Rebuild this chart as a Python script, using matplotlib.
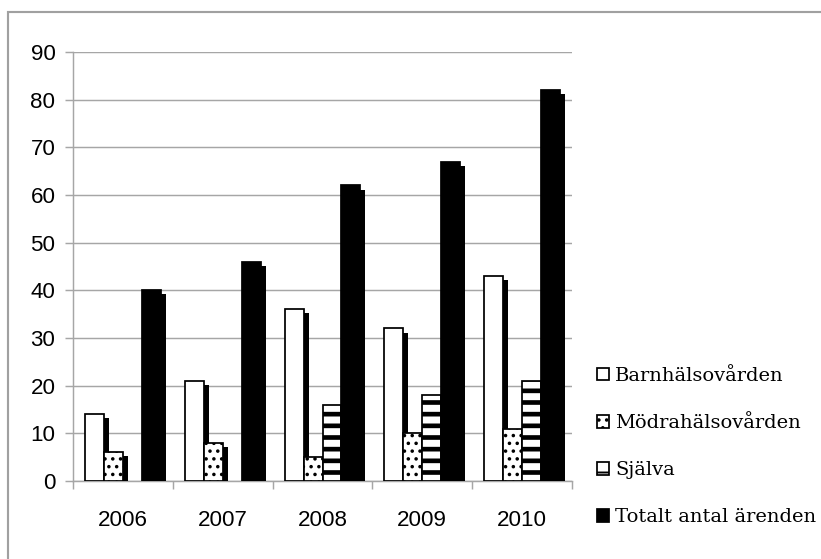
import numpy as np
import matplotlib
matplotlib.use("Agg")
import matplotlib.pyplot as plt
import matplotlib.patheffects as pe
from matplotlib.patches import Patch, Rectangle

# Ärenden per år och källa
years = ["2006", "2007", "2008", "2009", "2010"]
barnhalsovarden = [14, 21, 36, 32, 43]
modrahalsovarden = [6, 8, 5, 10, 11]
sjalva = [np.nan, np.nan, 16, 18, 21]
totalt = [40, 46, 62, 67, 82]

series = [
    ("Barnhälsovården", barnhalsovarden, "white", ""),
    ("Mödrahälsovården", modrahalsovarden, "white", "..."),
    ("Själva", sjalva, "white", "--"),
    ("Totalt antal ärenden", totalt, "black", ""),
]

tick_font = ["Liberation Sans", "DejaVu Sans"]
legend_font = ["DejaVu Serif"]
grid_grey = "#a6a6a6"

DPI = 140
W, H = 822, 559
fig = plt.figure(figsize=(W / DPI, H / DPI), dpi=DPI)
ax = fig.add_axes([73 / W, 1 - 481 / H, (572 - 73) / W, (481 - 52) / H])

# ram runt hela diagrammet
fig.patches.append(Rectangle((8 / W, -0.1), 1.2, 1 - 12 / H + 0.1,
                             transform=fig.transFigure, fill=False,
                             edgecolor="#a0a0a0", linewidth=1.1))

x = np.arange(len(years))
width = 0.19
shadow = [pe.SimplePatchShadow(offset=(2.6, -2.1), shadow_rgbFace="black", alpha=1.0),
          pe.Normal()]

handles = []
for i, (name, values, face, hatch) in enumerate(series):
    offs = (i - 1.5) * width
    lw_hatch = 2.4 if hatch == "--" else 1.0
    with plt.rc_context({"hatch.linewidth": lw_hatch, "hatch.color": "black"}):
        bars = ax.bar(x + offs, values, width, color=face, edgecolor="black",
                      linewidth=0.9, hatch=hatch, zorder=3 + i)
        for b in bars:
            b.set_path_effects(shadow)
        handles.append(Patch(facecolor=face, edgecolor="black", linewidth=0.9,
                             hatch=hatch, label=name))

ax.set_ylim(0, 90)
ax.set_xlim(-0.5, len(years) - 0.5)
ax.set_yticks(range(0, 91, 10))
ax.yaxis.grid(True, color=grid_grey, linewidth=0.75, zorder=0)
ax.set_axisbelow(True)

ax.set_xticks(np.arange(len(years) + 1) - 0.5)
ax.set_xticklabels([])
ax.set_xticks(x, minor=True)
ax.set_xticklabels(years, minor=True)
ax.tick_params(axis="x", which="minor", length=0, pad=15)
ax.tick_params(axis="x", which="major", length=4, color=grid_grey, width=0.75)
ax.tick_params(axis="y", length=4, color=grid_grey, width=0.75, pad=5)

for lab in ax.get_yticklabels() + ax.get_xticklabels(minor=True):
    lab.set_family(tick_font)
    lab.set_fontsize(11.5)

for s in ["top", "right"]:
    ax.spines[s].set_visible(False)
for s in ["left", "bottom"]:
    ax.spines[s].set_color(grid_grey)
    ax.spines[s].set_linewidth(0.75)

fig.legend(handles=handles, loc="upper left", bbox_to_anchor=(597 / W, 1 - 367 / H),
           frameon=False, prop={"family": legend_font, "size": 10},
           handlelength=0.62, handleheight=0.62, handletextpad=0.3,
           labelspacing=1.5, borderpad=0, borderaxespad=0)

fig.savefig("out.png", dpi=DPI)
